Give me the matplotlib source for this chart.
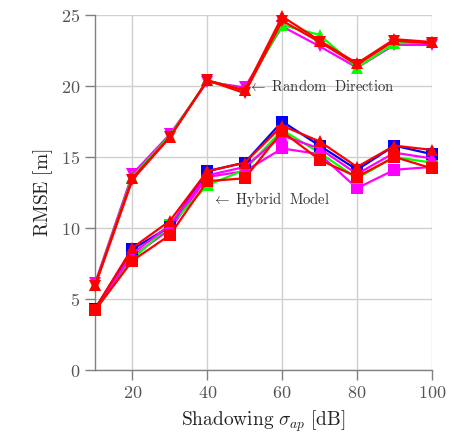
import matplotlib
matplotlib.use("Agg")
import matplotlib.pyplot as plt

plt.rcParams['mathtext.fontset'] = 'cm'
plt.rcParams['font.family'] = ['DejaVu Serif']

sigma = [10, 20, 30, 40, 50, 60, 70, 80, 90, 100]

# Random Direction group
rd_magenta = [6.1, 13.8, 16.6, 20.3, 19.9, 24.2, 22.8, 21.3, 22.9, 22.9]
rd_green = [6.0, 13.6, 16.5, 20.4, 19.7, 24.3, 23.6, 21.3, 23.0, 23.1]
rd_red_up = [6.0, 13.5, 16.4, 20.4, 19.7, 24.9, 23.2, 21.6, 23.3, 23.1]
rd_red_dn = [5.9, 13.4, 16.4, 20.4, 19.5, 24.6, 23.1, 21.5, 23.2, 23.0]

# Hybrid Model group
hm_blue_sq = [4.3, 8.5, 10.1, 14.0, 14.6, 17.5, 15.8, 14.1, 15.8, 15.2]
hm_green_sq = [4.2, 7.8, 10.2, 13.0, 14.1, 16.9, 15.3, 13.5, 15.0, 14.6]
hm_magenta_sq = [4.2, 8.0, 9.9, 13.6, 14.0, 15.6, 15.2, 12.8, 14.1, 14.3]
hm_magenta_up = [4.2, 8.2, 10.2, 13.7, 14.3, 16.5, 15.6, 13.8, 15.3, 14.9]
hm_red_sq = [4.2, 7.7, 9.5, 13.3, 13.5, 16.8, 14.8, 13.6, 15.0, 14.2]
hm_red_up = [4.3, 8.6, 10.5, 14.0, 14.6, 17.2, 16.1, 14.3, 15.8, 15.5]

x_ticks = [20, 40, 60, 80, 100]
y_ticks = [0, 5, 10, 15, 20, 25]

fig = plt.figure(figsize=(4.59, 4.43), dpi=100)
ax = fig.add_axes([0.207, 0.165, 0.734, 0.801])

lw = 1.6
ms = 8
series = [
    (hm_magenta_sq, 'magenta', 's'),
    (hm_green_sq, '#00ff00', 's'),
    (hm_blue_sq, 'blue', 's'),
    (hm_magenta_up, 'magenta', '^'),
    (hm_red_sq, 'red', 's'),
    (hm_red_up, 'red', '^'),
    (rd_magenta, 'magenta', 'v'),
    (rd_green, '#00ff00', '^'),
    (rd_red_up, 'red', '^'),
    (rd_red_dn, 'red', 'v'),
]
for ys, c, m in series:
    ax.plot(sigma, ys, color=c, marker=m, markersize=ms, linewidth=lw,
            markeredgewidth=0, clip_on=False, zorder=3)

ax.set_xlim(10, 100)
ax.set_ylim(0, 25)
ax.set_xticks(x_ticks)
ax.set_yticks(y_ticks)
ax.set_xticklabels([r'$%d$' % v for v in x_ticks])
ax.set_yticklabels([r'$%d$' % v for v in y_ticks])
ax.grid(True, color='#d0d0d0', linewidth=1.0, zorder=0)
ax.set_axisbelow(True)
for s in ['top', 'right']:
    ax.spines[s].set_visible(False)
for s in ['left', 'bottom']:
    ax.spines[s].set_color('#808080')
    ax.spines[s].set_linewidth(1.0)
ax.tick_params(axis='both', colors='#808080', labelcolor='#555555',
               labelsize=13, length=7, width=1.0, direction='out')

ax.set_xlabel(r'$\mathrm{Shadowing}\ \sigma_{ap}\ [\mathrm{dB}]$', fontsize=14, color='#222222', labelpad=4)
ax.set_ylabel(r'$\mathrm{RMSE}\ [\mathrm{m}]$', fontsize=14, color='#222222', labelpad=4)

ax.text(51.0, 20.0, r'$\leftarrow\ \mathrm{Random\ \ Direction}$', fontsize=10.5,
        color='#333333', va='center', ha='left')
ax.text(41.2, 12.0, r'$\leftarrow\ \mathrm{Hybrid\ \ Model}$', fontsize=10.5,
        color='#333333', va='center', ha='left')

fig.savefig('out.png', dpi=100)
